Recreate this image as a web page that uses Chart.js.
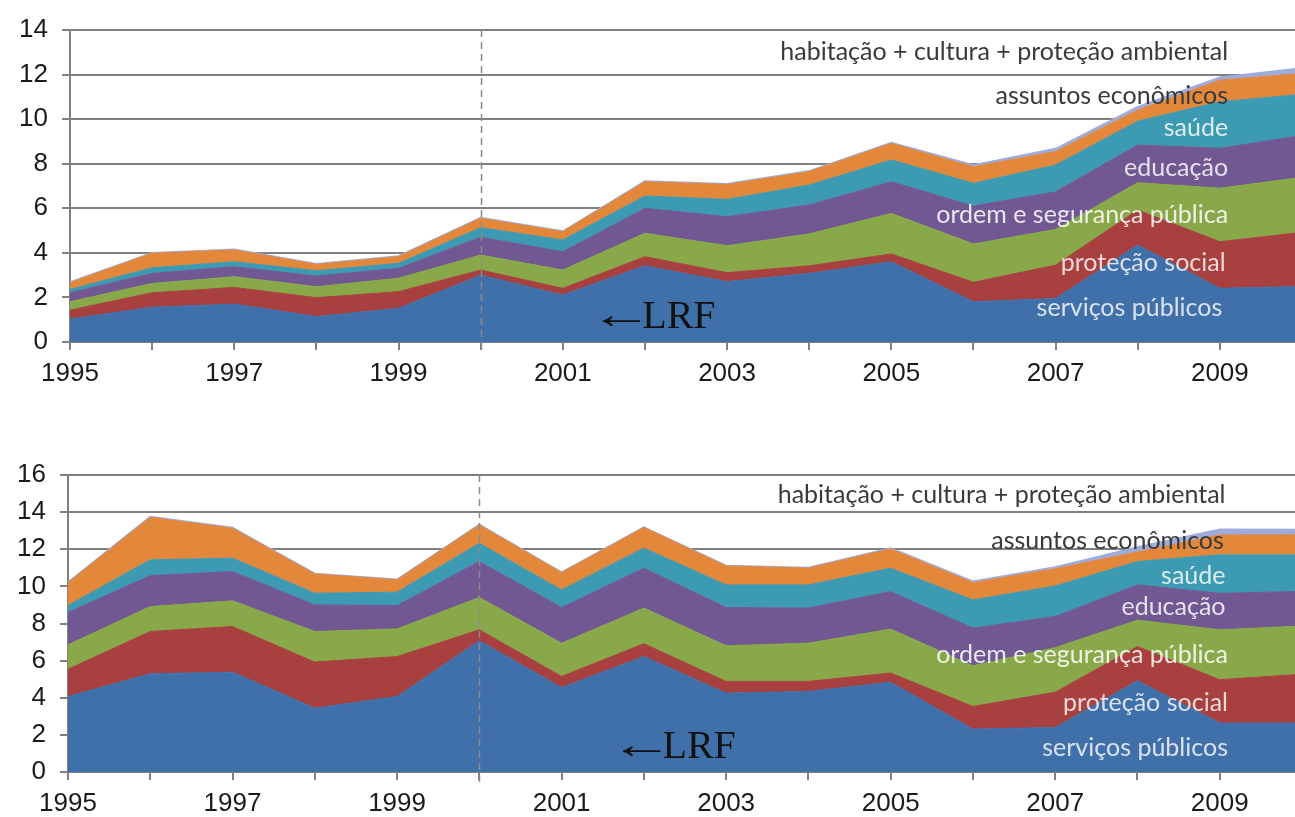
<!DOCTYPE html>
<html>
<head>
<meta charset="utf-8">
<script src="https://cdn.jsdelivr.net/npm/chart.js@4.4.1/dist/chart.umd.min.js"></script>
<style>
html, body { margin: 0; padding: 0; background: #fff; overflow: hidden; width: 1295px; height: 817px; }
.wrap { position: absolute; left: 0; }
#wrapTop { top: 0; }
#wrapBottom { top: 430px; }
</style>
</head>
<body>
<div class="wrap" id="wrapTop"><canvas id="topChart" width="1310" height="400"></canvas></div>
<div class="wrap" id="wrapBottom"><canvas id="bottomChart" width="1310" height="387"></canvas></div>
<script>
// categories
const years = ['1995', '1996', '1997', '1998', '1999', '2000', '2001', '2002',
               '2003', '2004', '2005', '2006', '2007', '2008', '2009', '2010'];

const seriesNames = ['serviços públicos', 'proteção social', 'ordem e segurança pública',
                     'educação', 'saúde', 'assuntos econômicos',
                     'habitação + cultura + proteção ambiental'];

// top chart
const topServicos  = [1.03, 1.56, 1.70, 1.14, 1.51, 3.00, 2.11, 3.42, 2.71, 3.08, 3.60, 1.81, 1.95, 4.35, 2.41, 2.49];
const topProtecao  = [0.40, 0.65, 0.75, 0.85, 0.75, 0.23, 0.30, 0.41, 0.40, 0.34, 0.35, 0.87, 1.50, 1.57, 2.09, 2.43];
const topOrdem     = [0.38, 0.42, 0.48, 0.49, 0.60, 0.67, 0.82, 1.05, 1.21, 1.43, 1.82, 1.72, 1.60, 1.23, 2.40, 2.47];
const topEducacao  = [0.40, 0.45, 0.45, 0.48, 0.45, 0.80, 0.82, 1.12, 1.30, 1.30, 1.42, 1.70, 1.69, 1.69, 1.79, 1.88];
const topSaude     = [0.15, 0.25, 0.22, 0.24, 0.22, 0.43, 0.53, 0.55, 0.78, 0.89, 0.98, 1.02, 1.20, 1.07, 2.09, 1.84];
const topAssuntos  = [0.30, 0.65, 0.53, 0.28, 0.30, 0.42, 0.37, 0.64, 0.67, 0.60, 0.74, 0.74, 0.61, 0.50, 0.97, 0.94];
const topHabitacao = [0.03, 0.03, 0.03, 0.03, 0.03, 0.03, 0.03, 0.03, 0.03, 0.04, 0.04, 0.08, 0.13, 0.15, 0.13, 0.25];

// bottom chart
const botServicos  = [4.07, 5.29, 5.38, 3.44, 4.07, 7.07, 4.55, 6.22, 4.25, 4.34, 4.84, 2.31, 2.40, 4.92, 2.64, 2.64];
const botProtecao  = [1.47, 2.28, 2.46, 2.48, 2.15, 0.59, 0.60, 0.69, 0.63, 0.54, 0.49, 1.22, 1.90, 1.84, 2.33, 2.63];
const botOrdem     = [1.31, 1.34, 1.38, 1.65, 1.49, 1.74, 1.79, 1.92, 1.92, 2.06, 2.37, 2.19, 2.40, 1.42, 2.69, 2.59];
const botEducacao  = [1.74, 1.67, 1.58, 1.43, 1.26, 1.94, 1.92, 2.15, 2.06, 1.89, 2.02, 2.03, 1.68, 1.90, 1.97, 1.87];
const botSaude     = [0.38, 0.85, 0.72, 0.63, 0.72, 0.98, 0.95, 1.08, 1.22, 1.25, 1.26, 1.52, 1.64, 1.26, 2.07, 1.97];
const botAssuntos  = [1.23, 2.29, 1.61, 1.04, 0.66, 0.99, 0.93, 1.11, 1.02, 0.90, 1.04, 0.93, 0.93, 0.51, 1.07, 1.07];
const botHabitacao = [0.03, 0.04, 0.04, 0.03, 0.03, 0.03, 0.03, 0.03, 0.03, 0.04, 0.04, 0.08, 0.10, 0.27, 0.31, 0.29];

const fillColors = ['#4070aa', '#a8403f', '#88a84a', '#715893', '#3c9ab3', '#e3873a', '#9eacdc'];
const labelColors = ['rgba(255,255,255,0.8)', 'rgba(255,255,255,0.8)', 'rgba(255,255,255,0.85)',
                     'rgba(255,255,255,0.82)', 'rgba(255,255,255,0.82)', '#3a3a3a', '#3a3a3a'];

Chart.defaults.font.family = '"Liberation Sans", Arial, sans-serif';
Chart.defaults.color = '#1a1a1a';

// draws the dashed 2000 line, the series names and the LRF note
const overlayPlugin = {
    id: 'overlay',
    afterDatasetsDraw(chart, args, opts) {
        const { ctx, chartArea, scales: { x, y } } = chart;
        ctx.save();
        const lx = Math.round(x.getPixelForValue(opts.lrfIndex)) + 0.5;
        ctx.strokeStyle = '#8a8a8a';
        ctx.lineWidth = 1.5;
        ctx.setLineDash([7, 5]);
        ctx.beginPath();
        ctx.moveTo(lx, chartArea.top);
        ctx.lineTo(lx, chartArea.bottom + 10);
        ctx.stroke();
        ctx.setLineDash([]);

        ctx.font = '25px Lato, "Open Sans", sans-serif';
        ctx.textAlign = 'right';
        ctx.textBaseline = 'middle';
        opts.spots.forEach((s, k) => {
            ctx.fillStyle = labelColors[k];
            ctx.fillText(seriesNames[k], x.getPixelForValue(s[0]), y.getPixelForValue(s[1]));
        });

        // LRF note, the arrow glyph stretched to the long thin arrow of the original
        const tx = x.getPixelForValue(opts.lrf[0]);
        const ty = y.getPixelForValue(opts.lrf[1]);
        ctx.fillStyle = '#111';
        ctx.font = '40px "Liberation Serif", "Times New Roman", serif';
        ctx.textBaseline = 'alphabetic';
        ctx.textAlign = 'left';
        const m = ctx.measureText('\u2190');
        const glyphW = (m.actualBoundingBoxLeft + m.actualBoundingBoxRight) || m.width;
        const s = 38 / glyphW;
        ctx.save();
        ctx.translate(tx + (m.actualBoundingBoxLeft || 0) * s, ty);
        ctx.scale(s, 1);
        ctx.fillText('\u2190', 0, 0);
        ctx.restore();
        ctx.fillText('LRF', tx + 40, ty);
        ctx.restore();
    }
};

function createAreaChart(id, series, yMax, axisLeft, padTop, xHeight, padRight, spots, lrf) {
    const ctx = document.getElementById(id).getContext('2d');
    return new Chart(ctx, {
        type: 'line',
        data: {
            labels: years,
            datasets: series.map((values, k) => ({
                label: seriesNames[k],
                data: values,
                backgroundColor: fillColors[k],
                borderColor: fillColors[k],
                borderWidth: k === series.length - 1 ? 1.5 : 1,
                pointRadius: 0,
                tension: 0,
                fill: k === 0 ? 'origin' : '-1'
            }))
        },
        options: {
            responsive: false,
            animation: false,
            layout: { padding: { top: padTop, right: padRight, left: 0, bottom: 0 } },
            plugins: {
                legend: { display: false },
                tooltip: { enabled: false },
                overlay: { lrfIndex: 5, spots: spots, lrf: lrf }
            },
            scales: {
                x: {
                    type: 'category',
                    offset: false,
                    afterFit(s) { s.height = xHeight; },
                    grid: { drawOnChartArea: false, drawTicks: true, tickLength: 8, color: '#808080', lineWidth: 2 },
                    border: { display: true, color: '#808080', width: 2 },
                    ticks: {
                        autoSkip: false,
                        maxRotation: 0,
                        padding: 8,
                        font: { size: 26 },
                        color: '#1a1a1a',
                        callback: (v, i) => (i % 2 === 0 ? years[i] : '')
                    }
                },
                y: {
                    stacked: true,
                    min: 0,
                    max: yMax,
                    afterFit(s) { s.width = axisLeft; },
                    grid: { color: '#808080', lineWidth: 2, tickLength: 8 },
                    border: { display: true, color: '#808080', width: 2 },
                    ticks: { stepSize: 2, padding: 14, font: { size: 26 }, color: '#1a1a1a' }
                }
            }
        },
        plugins: [overlayPlugin]
    });
}

const topChart = createAreaChart('topChart',
    [topServicos, topProtecao, topOrdem, topEducacao, topSaude, topAssuntos, topHabitacao],
    14, 70, 30, 58, 5,
    [[14.03, 1.53], [14.07, 3.54], [14.1, 5.7], [14.1, 7.8], [14.1, 9.6], [14.1, 11.04], [14.1, 13.0]],
    [6.48, 0.63]);

const bottomChart = createAreaChart('bottomChart',
    [botServicos, botProtecao, botOrdem, botEducacao, botSaude, botAssuntos, botHabitacao],
    16, 68, 45, 45, 7,
    [[14.1, 1.31], [14.1, 3.73], [14.1, 6.31], [14.07, 8.9], [14.07, 10.57], [14.05, 12.45], [14.07, 14.92]],
    [6.74, 0.77]);
</script>
</body>
</html>
